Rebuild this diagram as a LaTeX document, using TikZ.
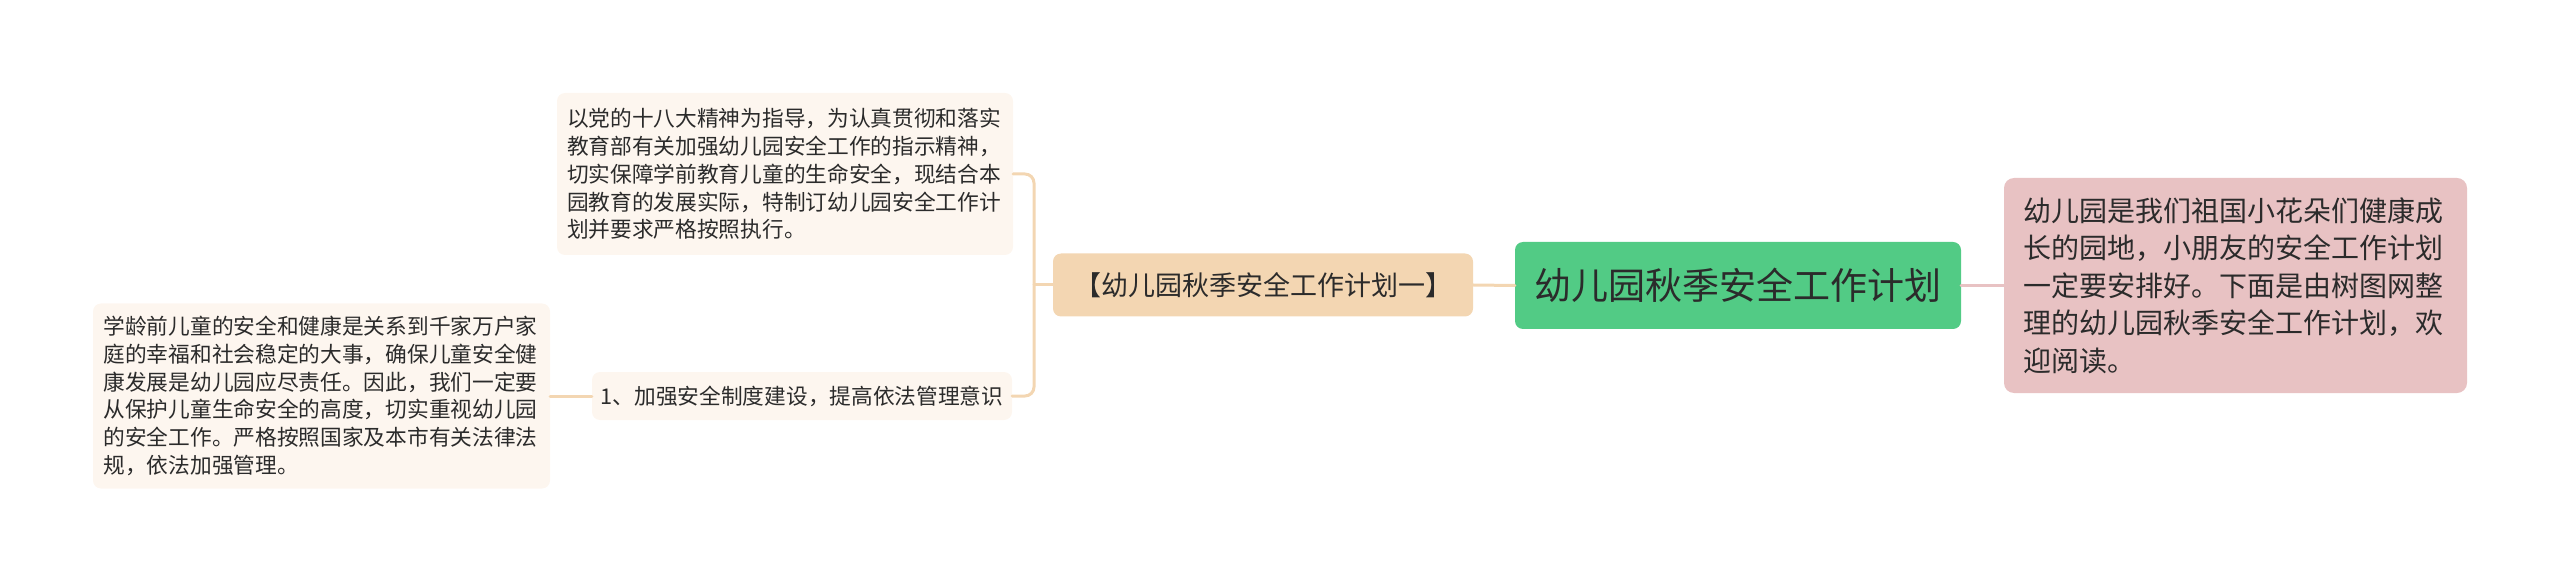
\documentclass[tikz,border=0pt]{standalone}
\usepackage{fontspec}
\newfontfamily\cjk{Noto Sans CJK SC}
\definecolor{rootgreen}{HTML}{52CB85}
\definecolor{rosebox}{HTML}{E8C2C3}
\definecolor{tanbox}{HTML}{F3D6B2}
\definecolor{creambox}{HTML}{FDF6EF}
\definecolor{inktext}{HTML}{2B2B2B}
\begin{document}
\begin{tikzpicture}[line cap=round,line join=round,x=1pt,y=-1pt,
	box/.style={rounded corners=8pt,inner sep=0pt,align=left,text=inktext},
	leaf/.style={box,fill=creambox,font=\cjk\fontsize{21.7}{27.8}\selectfont},
	tanlink/.style={draw=tanbox,line width=3pt},
	roselink/.style={draw=rosebox,line width=3pt}]
	\useasboundingbox (0,0) rectangle (2560,585);
	% main topic and its note
	\node[box,fill=rootgreen,minimum width=446,minimum height=87,font=\cjk\fontsize{37}{44}\selectfont] (root) at (1738,285.5) {幼儿园秋季安全工作计划};
	\node[box,fill=rosebox,rounded corners=10pt,minimum width=463,minimum height=215,text width=424,font=\cjk\fontsize{28}{37.5}\selectfont] (intro) at (2235.5,285.5) {幼儿园是我们祖国小花朵们健康成\\长的园地，小朋友的安全工作计划\\一定要安排好。下面是由树图网整\\理的幼儿园秋季安全工作计划，欢\\迎阅读。};
	% branch
	\node[box,fill=tanbox,minimum width=420,minimum height=63,font=\cjk\fontsize{27}{32}\selectfont] (plan) at (1263,285) {【幼儿园秋季安全工作计划一】};
	\node[leaf,minimum width=456,minimum height=162,text width=436] (guide) at (785,174) {以党的十八大精神为指导，为认真贯彻和落实\\教育部有关加强幼儿园安全工作的指示精神，\\切实保障学前教育儿童的生命安全，现结合本\\园教育的发展实际，特制订幼儿园安全工作计\\划并要求严格按照执行。};
	\node[leaf,minimum width=420,minimum height=48] (rule) at (802,396) {1、加强安全制度建设，提高依法管理意识};
	\node[leaf,minimum width=457,minimum height=185,text width=436] (detail) at (321.5,396) {学龄前儿童的安全和健康是关系到千家万户家\\庭的幸福和社会稳定的大事，确保儿童安全健\\康发展是幼儿园应尽责任。因此，我们一定要\\从保护儿童生命安全的高度，切实重视幼儿园\\的安全工作。严格按照国家及本市有关法律法\\规，依法加强管理。};
	\coordinate (fork) at (1034,285);
	% connectors
	\draw[roselink] (root.east) -- (intro.west);
	\draw[tanlink] (plan.east) -- (root.west);
	\draw[tanlink] (plan.west) -- (fork);
	\draw[tanlink,rounded corners=9pt] (guide.east) -| (fork) |- (rule.east);
	\draw[tanlink] (detail.east) -- (rule.west);
\end{tikzpicture}
\end{document}
